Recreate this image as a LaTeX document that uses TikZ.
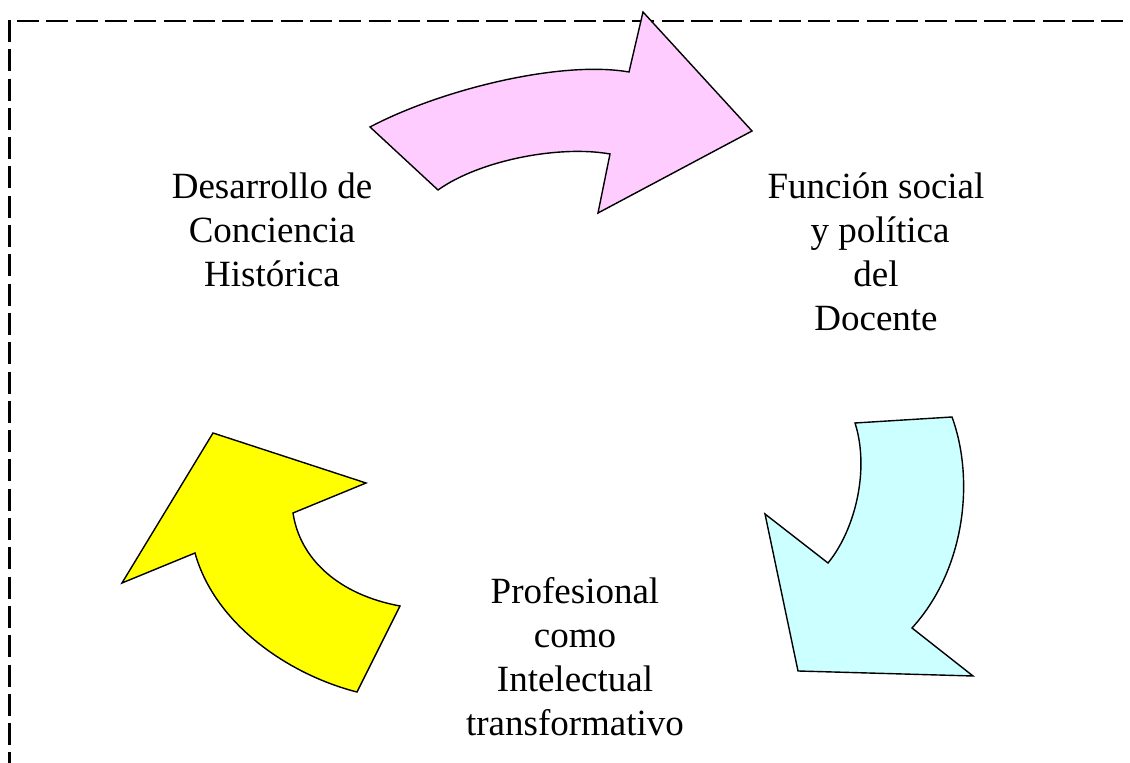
\documentclass[tikz,border=0pt]{standalone}
\usepackage{fontspec}
\setmainfont{Liberation Serif}
\usetikzlibrary{calc}
\definecolor{rosa}{RGB}{255,204,255}
\definecolor{celeste}{RGB}{204,255,255}
\definecolor{amarillo}{RGB}{255,255,0}

\begin{document}
\begin{tikzpicture}[x=0.5pt,y=-0.5pt]
  \tikzset{myshape/.style={draw=black, line width=0.7pt, line join=miter}};
  \tikzset{mylabel/.style={align=center, inner sep=0pt, anchor=north, font=\fontsize{18.5}{22}\selectfont}};
  \tikzset{myframe/.style={dash pattern=on 11pt off 3.65pt, line width=1.45pt}};
  \useasboundingbox (0,0) rectangle (1130,763);

  % marco
  \draw[myframe] (17,21) -- (1140,21);
  \draw[myframe] (9.5,20) -- (9.5,780);

  % flechas
  \draw[myshape, fill=rosa] (370,127) .. controls (440,90) and (560,60) .. (629,72)
    -- (643,12) -- (752,131) -- (598,213) -- (610,154)
    .. controls (560,145) and (480,160) .. (438,190) -- cycle;
  \draw[myshape, fill=celeste] (855,423) -- (952,417)
    .. controls (975,480) and (965,570) .. (912,628)
    -- (973,676) -- (798,671) -- (765,514) -- (828,563)
    .. controls (855,530) and (870,470) .. cycle;
  \draw[myshape, fill=amarillo] (213,433) -- (366,483) -- (293,513)
    .. controls (300,560) and (340,595) .. (400,606)
    -- (357,692) .. controls (290,675) and (215,625) .. (195,553)
    -- (122,583) -- cycle;

  \node[mylabel] (hist) at (272,172) {Desarrollo de\\Conciencia\\Histórica};
  \node[mylabel] (func) at (876,172) {Función social\\\hspace*{0.22em}y política\\del\\Docente};
  \node[mylabel] (prof) at (575,577) {Profesional\\como\\Intelectual\\transformativo};
\end{tikzpicture}
\end{document}
